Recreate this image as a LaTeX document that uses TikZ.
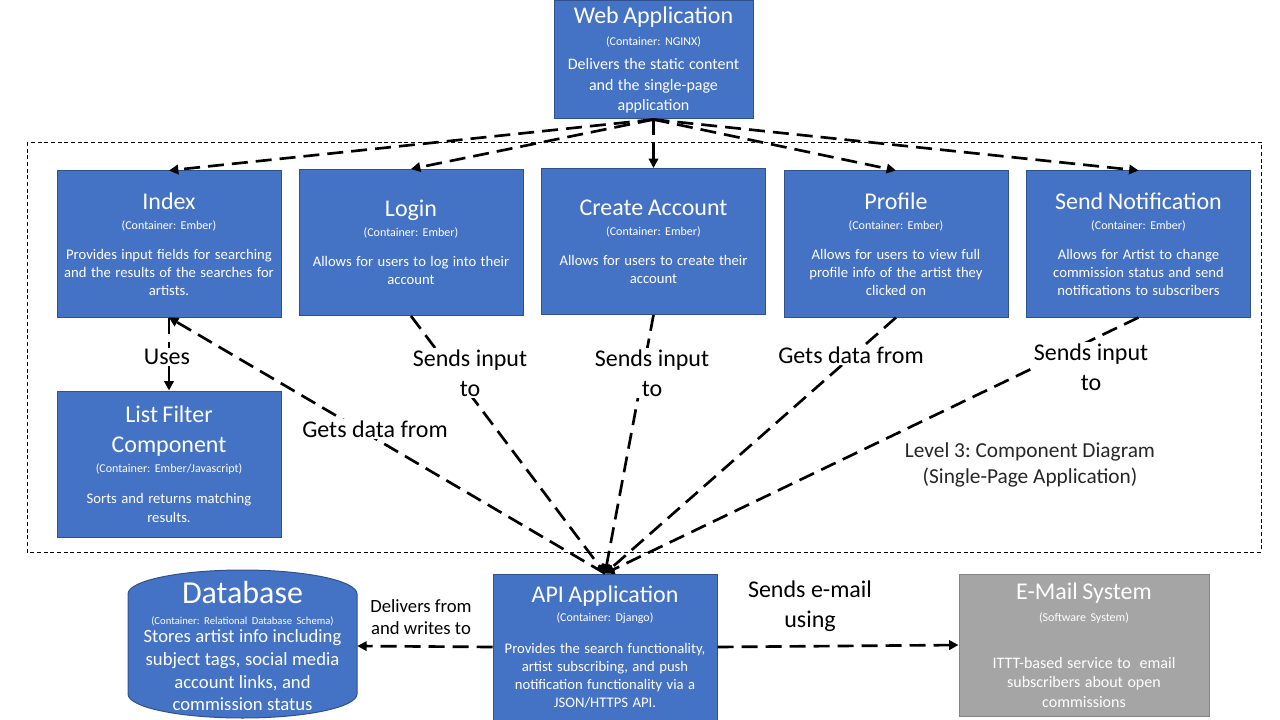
\documentclass[tikz,border=0pt]{standalone}
\usepackage{fontspec}
\setmainfont{Carlito}
\usetikzlibrary{arrows.meta}
\frenchspacing

\definecolor{boxblue}{HTML}{4472C4}
\definecolor{boxline}{HTML}{2F528F}
\definecolor{sysgray}{HTML}{A5A5A5}
\definecolor{sysline}{HTML}{858585}

\newcommand{\comptext}[3]{%
  {\fontsize{18}{22}\selectfont #1\par}%
  {\fontsize{9}{15}\selectfont #2\par}%
  \vspace{9pt}%
  {\fontsize{11}{13.5}\selectfont #3\par}}

\begin{document}
\begin{tikzpicture}[x=0.75pt, y=-0.75pt,
        comp/.style={draw=boxline, fill=boxblue, text=white, line width=0.75pt, align=center,
            text width=160pt, minimum width=168pt, minimum height=109.5pt, inner sep=0pt},
        flow/.style={-{Triangle[length=7pt,width=7pt]}, line width=2pt, dash pattern=on 12pt off 6pt},
        lbl/.style={fill=white, inner sep=1pt, align=center, font=\fontsize{18}{22.5}\selectfont}]
        \useasboundingbox (0,0) rectangle (1280,720);

        % boundary of the single-page application
        \draw[line width=0.6pt, dash pattern=on 3pt off 2pt] (27,142) rectangle (1261,552);

        \node[comp, text width=145pt, minimum width=149.25pt, minimum height=88.5pt] (web) at (653.5,60)
            {{\fontsize{18}{22}\selectfont Web Application\par}%
             {\fontsize{9}{17}\selectfont (Container: NGINX)\par}\vspace{2.5pt}%
             {\fontsize{12}{15.4}\selectfont Delivers the static content\\ and the single-page\\ application\par}};

        \node[comp] (index) at (169,244) {\comptext{Index}{(Container: Ember)}{Provides input fields for searching\\ and the results of the searches for\\ artists.}};
        \node[comp] (login) at (411,242.5) {\comptext{Login}{(Container: Ember)}{Allows for users to log into their\\ account}};
        \node[comp] (create) at (653.5,241.5) {\comptext{Create Account}{(Container: Ember)}{Allows for users to create their\\ account}};
        \node[comp] (profile) at (896,244) {\comptext{Profile}{(Container: Ember)}{Allows for users to view full\\ profile info of the artist they\\ clicked on}};
        \node[comp] (notify) at (1138.5,244) {\comptext{Send Notification}{(Container: Ember)}{Allows for Artist to change\\ commission status and send\\ notifications to subscribers}};

        \node[comp] (listf) at (169,464)
            {{\fontsize{18}{22.5}\selectfont List Filter\\ Component\par}%
             {\fontsize{9}{15}\selectfont (Container: Ember/Javascript)\par}\vspace{9.5pt}%
             {\fontsize{11}{14}\selectfont Sorts and returns matching\\ results.\par}};

        \node[comp] (api) at (605,647)
            {{\fontsize{18}{22}\selectfont API Application\par}%
             {\fontsize{9}{14}\selectfont (Container: Django)\par}\vspace{10.5pt}%
             {\fontsize{11}{13.5}\selectfont Provides the search functionality,\\ artist subscribing, and push\\ notification functionality via a\\ JSON/HTTPS API.\par}};

        \node[comp, draw=sysline, fill=sysgray, text width=180pt, minimum width=187.5pt, minimum height=106.5pt] (email) at (1084,645)
            {{\fontsize{18}{22}\selectfont E-Mail System\par}%
             {\fontsize{9}{16.5}\selectfont (Software System)\par}\vspace{20.5pt}%
             {\fontsize{12}{14.6}\selectfont ITTT-based service to\ \ email\\ subscribers about open\\ commissions\par}};

        % database drum
        \filldraw[draw=boxline, fill=boxblue, line width=0.75pt] (128,594) -- (128,694)
            arc[start angle=180, end angle=0, x radius=114.5, y radius=24] -- (357,594)
            arc[start angle=0, end angle=-180, x radius=114.5, y radius=24] -- cycle;
        \node[text=white, align=center, text width=168pt, minimum width=171.75pt, inner sep=0pt] (db) at (242.5,646)
            {{\fontsize{24}{28}\selectfont Database\par}%
             {\fontsize{8}{16}\selectfont (Container: Relational Database Schema)\par}\vspace{-3.5pt}%
             {\fontsize{14}{17}\selectfont Stores artist info including\\ subject tags, social media\\ account links, and\\ commission status\par}};

        \draw[flow] (web.south) -- (index.north);
        \draw[flow] (web.south) -- (login.north);
        \draw[flow] (web.south) -- (create.north);
        \draw[flow] (web.south) -- (profile.north);
        \draw[flow] (web.south) -- (notify.north);

        \draw[flow] (index.south) -- (listf.north);
        \draw[flow] (api.north) -- (index.south);
        \draw[flow] (login.south) -- (api.north);
        \draw[flow] (create.south) -- (api.north);
        \draw[flow] (profile.south) -- (api.north);
        \draw[flow] (notify.south) -- (api.north);
        \draw[flow] (api.west) -- (db.east);
        \draw[flow] (api.east) -- (email.west);

        \node[lbl] (uses) at (167,357) {Uses};
        \node[lbl] (getidx) at (375,429) {Gets data from};
        \node[lbl] (sendlogin) at (470,373) {Sends input\\ to};
        \node[lbl] (sendcreate) at (652,373) {Sends input\\ to};
        \node[lbl] (getprof) at (851,355) {Gets data from};
        \node[lbl] (sendnote) at (1091,367) {Sends input\\ to};
        \node[lbl, font=\fontsize{14}{17}\selectfont] (deliver) at (421,617) {Delivers from\\ and writes to};
        \node[lbl] (sendmail) at (810,606) {Sends e-mail\\ using};

        \node[align=center, text=black!85, font=\fontsize{16}{19}\selectfont] (level) at (1030,465)
            {Level 3: Component Diagram\\ (Single-Page Application)};
    \end{tikzpicture}
\end{document}
